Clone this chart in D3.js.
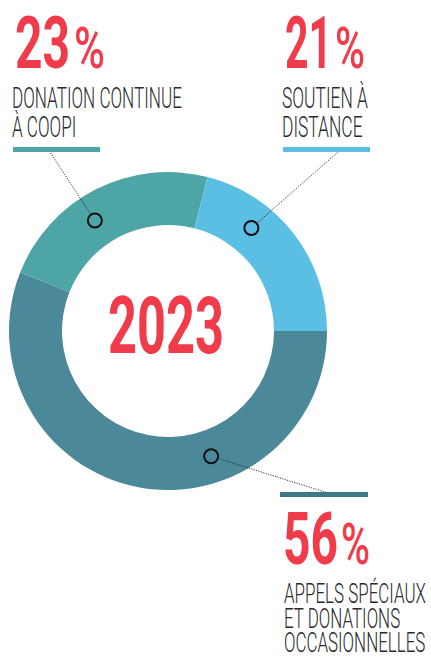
<!DOCTYPE html>
<html>
<head>
<meta charset="utf-8">
<script src="https://cdn.jsdelivr.net/npm/d3@7"></script>
<style>
  html, body { margin: 0; padding: 0; background: #fff; }
  svg { display: block; }
</style>
</head>
<body>
<div id="chart"></div>
<script>
// slices, clockwise from 3 o'clock
const categories = ["appels", "continue", "soutien"];
const values = [56, 23, 21];
const colors = ["#4a889a", "#4ea5a6", "#5bbfe4"];
const barColors = ["#3f7788", "#4ea5a6", "#5bbfe4"];
// label text
const pctLabels = ["56", "23", "21"];
const labelLines = [
  ["APPELS SPÉCIAUX", "ET DONATIONS", "OCCASIONNELLES"],
  ["DONATION CONTINUE", "À COOPI"],
  ["SOUTIEN À", "DISTANCE"]
];
// where the little ring markers sit on each slice (degrees, clockwise from 12 o'clock)
const markerAngles = [161, 326.5, 39];
const yearLabel = "2023";

const width = 431, height = 660;
const cx = 168, cy = 331;
const outerR = 159, innerR = 106;
const red = "#ef3b4a";

const svg = d3.select("#chart").append("svg")
  .attr("width", width)
  .attr("height", height);

// squeeze a text horizontally so it is w px wide (condensed look)
function fit(sel, x, y, w, anchor, natural) {
  natural = natural || sel.node().getComputedTextLength();
  const s = w / natural;
  const left = anchor === "middle" ? x - w / 2 : x;
  sel.attr("x", 0).attr("y", 0)
    .attr("transform", "translate(" + left + "," + y + ") scale(" + s + ",1)");
  return sel;
}

const g = svg.append("g")
  .attr("transform", "translate(" + cx + "," + cy + ")");

const pie = d3.pie()
  .sort(null)
  .startAngle(Math.PI / 2)
  .endAngle(Math.PI / 2 + 2 * Math.PI);

const arc = d3.arc()
  .innerRadius(innerR)
  .outerRadius(outerR);

const arcs = pie(values);

g.selectAll("path.slice")
  .data(arcs)
  .enter().append("path")
  .attr("class", "slice")
  .attr("d", arc)
  .attr("fill", (d, i) => colors[i]);

// year in the middle
fit(svg.append("text")
  .attr("font-family", "Roboto")
  .attr("font-weight", 700)
  .attr("font-size", 79)
  .attr("fill", red)
  .text(yearLabel), cx - 2, cy + 22, 116, "middle");

// label blocks: bar, digits [x, baseline, width], % [x, width], text [x, baseline, leading, first line width]
const blocks = [
  { bar: [280, 368, 494.5], pct: [283, 564, 55], sign: [341, 29], lines: [284, 603, 24.5, 142], anchor: [328, 493], fs: 27 },
  { bar: [13, 100, 149.5], pct: [15, 68, 55], sign: [74, 31], lines: [12, 108, 29, 170], anchor: [48, 149], fs: 29.5 },
  { bar: [283, 370, 149.5], pct: [285, 68, 47], sign: [335, 30], lines: [282, 108, 29, 86], anchor: [338, 152], fs: 29.5 }
];

const mk = d3.arc().innerRadius((innerR + outerR) / 2).outerRadius((innerR + outerR) / 2);

markerAngles.forEach((a, i) => {
  const rad = a * Math.PI / 180;
  const p = mk.centroid({ startAngle: rad, endAngle: rad });
  const px = cx + p[0], py = cy + p[1];
  const b = blocks[i];
  const dx = b.anchor[0] - px, dy = b.anchor[1] - py;
  const len = Math.sqrt(dx * dx + dy * dy);
  const r = 7;

  svg.append("line")
    .attr("x1", px + dx / len * r)
    .attr("y1", py + dy / len * r)
    .attr("x2", b.anchor[0])
    .attr("y2", b.anchor[1])
    .attr("stroke", "#222")
    .attr("stroke-width", 0.9)
    .attr("stroke-dasharray", "1.2,1.3");

  svg.append("circle")
    .attr("cx", px)
    .attr("cy", py)
    .attr("r", r)
    .attr("fill", "none")
    .attr("stroke", "#111")
    .attr("stroke-width", 2);

  svg.append("line")
    .attr("x1", b.bar[0])
    .attr("x2", b.bar[1])
    .attr("y1", b.bar[2])
    .attr("y2", b.bar[2])
    .attr("stroke", barColors[i])
    .attr("stroke-width", 5);

  fit(svg.append("text")
    .attr("font-family", "Roboto")
    .attr("font-weight", 700)
    .attr("font-size", 73)
    .attr("fill", red)
    .text(pctLabels[i]), b.pct[0], b.pct[1], b.pct[2]);

  fit(svg.append("text")
    .attr("font-family", "Roboto")
    .attr("font-weight", 500)
    .attr("font-size", 57)
    .attr("fill", red)
    .text("%"), b.sign[0], b.pct[1], b.sign[1]);

  // multi-line caption as one text block
  const t = svg.append("text")
    .attr("font-family", "Roboto")
    .attr("font-weight", 300)
    .attr("font-size", b.fs)
    .attr("fill", "#2a2a2a");
  const spans = labelLines[i].map((line, j) =>
    t.append("tspan")
      .attr("x", 0)
      .attr("dy", j === 0 ? 0 : b.lines[2])
      .text(line));
  fit(t, b.lines[0], b.lines[1], b.lines[3], null, spans[0].node().getComputedTextLength());
});
</script>
</body>
</html>
